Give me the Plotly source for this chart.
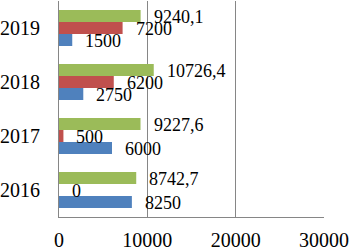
import plotly.graph_objects as go

years = ["2016", "2017", "2018", "2019"]
series_blue = [8250, 6000, 2750, 1500]
series_red = [0, 500, 6200, 7200]
series_green = [8742.7, 9227.6, 10726.4, 9240.1]
labels_blue = ["8250", "6000", "2750", "1500"]
labels_red = ["0", "500", "6200", "7200"]
labels_green = ["8742,7", "9227,6", "10726,4", "9240,1"]
x_ticks = [0, 10000, 20000, 30000]

FONT = "Liberation Serif"
series = [
    (series_blue, labels_blue, "#4F81BD", -12),
    (series_red, labels_red, "#C0504D", 0),
    (series_green, labels_green, "#9BBB59", 12),
]

fig = go.Figure()
annotations = []
for vals, labs, color, ysh in series:
    fig.add_trace(go.Bar(x=vals, y=years, orientation="h", marker_color=color,
                         marker_line_width=0, showlegend=False))
    for i, (v, lab) in enumerate(zip(vals, labs)):
        annotations.append(dict(x=v, y=i, xref="x", yref="y", text=lab, showarrow=False,
                                xanchor="left", yanchor="middle", xshift=11, yshift=ysh - 1,
                                font=dict(family=FONT, size=18, color="black")))

fig.update_layout(
    width=350, height=250,
    margin=dict(l=59, r=26, t=1, b=33, autoexpand=False),
    barmode="group", bargap=0.333, bargroupgap=0,
    plot_bgcolor="white", paper_bgcolor="white",
    font=dict(family=FONT, size=20, color="black"),
    annotations=annotations,
)
fig.update_xaxes(range=[0, 30000], tickvals=x_ticks, ticktext=[str(t) for t in x_ticks],
                 showgrid=True, gridcolor="#868686", gridwidth=1,
                 showline=True, linecolor="#868686", linewidth=1,
                 zeroline=False, ticks="", ticklabelstandoff=5,
                 tickfont=dict(family=FONT, size=20, color="black"))
fig.update_yaxes(type="category", categoryorder="array", categoryarray=years, range=[-0.5, 3.5],
                 showgrid=False, showline=True, linecolor="#868686", linewidth=1,
                 ticks="", ticklabelstandoff=14,
                 tickfont=dict(family=FONT, size=20, color="black"))

fig.write_html("out.html", config={"displayModeBar": False},
               post_script="document.body.style.margin='0';")
